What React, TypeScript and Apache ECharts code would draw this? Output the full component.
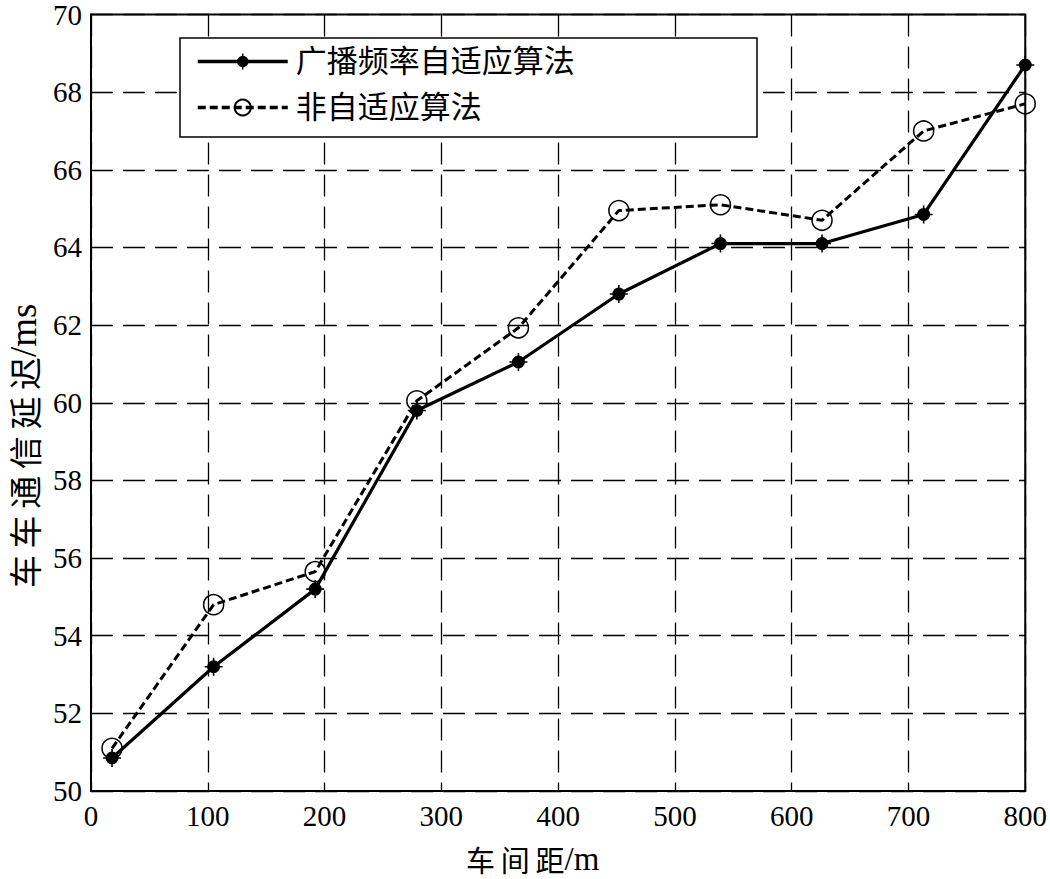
import React, { useEffect, useRef } from "react";
import * as echarts from "echarts";

const distances = [18, 105, 192, 279, 366, 452, 539, 626, 713, 800];
const adaptive = [50.85, 53.2, 55.2, 59.8, 61.05, 62.8, 64.1, 64.1, 64.85, 68.7];
const nonAdaptive = [51.1, 54.8, 55.65, 60.05, 61.93, 64.95, 65.1, 64.7, 67.0, 67.7];
const seriesNames = ["广播频率自适应算法", "非自适应算法"];
const xTitleCjk = "车间距";
const xTitleUnit = "/m";
const yTitleCjk = "车车通信延迟";
const yTitleUnit = "/ms";

const SERIF = "Liberation Serif";
const MIXED = "'Liberation Serif', 'Noto Sans CJK SC', serif";
const DOT_PLUS =
  "path://M-0.8,-9 H0.8 V-0.8 H9 V0.8 H0.8 V9 H-0.8 V0.8 H-9 V-0.8 H-0.8 Z " +
  "M-6.5,0 A6.5,6.5 0 1 1 6.5,0 A6.5,6.5 0 1 1 -6.5,0 Z";

const spaced = (s: string) => s.split("").join("\u2009");

export default function App() {
  const ref = useRef<HTMLDivElement>(null);
  useEffect(() => {
    if (!ref.current) return;
    const chart = echarts.init(ref.current, undefined, { renderer: "svg" });
    const gridLine = { show: true, lineStyle: { color: "#000", width: 1.3, type: [22, 10] as any } };
    const tickLabel = (margin: number) => ({
      color: "#000",
      margin,
      formatter: (v: number) => `{s|${v}}`,
      rich: { s: { fontFamily: SERIF, fontSize: 29, color: "#000" } },
    });
    chart.setOption({
      animation: false,
      backgroundColor: "#fff",
      textStyle: { fontFamily: SERIF },
      grid: {
        left: 91,
        right: 24,
        top: 13,
        bottom: 88,
        show: true,
        borderColor: "#000",
        borderWidth: 2,
      },
      legend: {
        left: 182,
        top: 38,
        orient: "vertical",
        padding: [8, 10, 8, 14],
        itemGap: 15,
        itemWidth: 90,
        itemHeight: 20,
        borderWidth: 0,
        z: 10,
        textStyle: { fontFamily: MIXED, fontSize: 31, color: "#000", padding: [0, 0, 0, 3] },
        data: [
          { name: seriesNames[0], lineStyle: { width: 3.5, color: "#000" } },
          { name: seriesNames[1], lineStyle: { width: 3.5, color: "#000", type: [8, 4] } },
        ],
      },
      xAxis: {
        type: "value",
        min: 0,
        max: 800,
        interval: 100,
        axisLine: { show: true, lineStyle: { color: "#000", width: 2 } },
        axisTick: { show: false },
        axisLabel: tickLabel(10),
        splitLine: gridLine,
      },
      yAxis: {
        type: "value",
        min: 50,
        max: 70,
        interval: 2,
        axisLine: { show: true, lineStyle: { color: "#000", width: 2 } },
        axisTick: { show: false },
        axisLabel: tickLabel(9),
        splitLine: gridLine,
      },
      graphic: [
        {
          type: "rect",
          z: 5,
          shape: { x: 180, y: 38, width: 577, height: 99 },
          style: { fill: "#fff", stroke: "#000", lineWidth: 1.5 },
        },
        {
          type: "text",
          left: 466,
          top: 842,
          style: {
            text: `{a|${spaced(xTitleCjk)}}{b|${xTitleUnit}}`,
            rich: {
              a: { fontFamily: "Noto Sans CJK SC", fontSize: 29, fill: "#000" },
              b: { fontFamily: SERIF, fontSize: 33, fill: "#000" },
            },
          },
        },
        {
          type: "text",
          x: 5,
          y: 588,
          rotation: Math.PI / 2,
          style: {
            text: `{a|${spaced(yTitleCjk)}}{b|${yTitleUnit}}`,
            rich: {
              a: { fontFamily: "Noto Sans CJK SC", fontSize: 33, fill: "#000" },
              b: { fontFamily: SERIF, fontSize: 37, fill: "#000" },
            },
          },
        },
      ],
      series: [
        {
          name: seriesNames[0],
          type: "line",
          data: distances.map((d, i) => [d, adaptive[i]]),
          symbol: DOT_PLUS,
          symbolSize: 18,
          itemStyle: { color: "#000" },
          lineStyle: { color: "#000", width: 3.2 },
          z: 3,
        },
        {
          name: seriesNames[1],
          type: "line",
          data: distances.map((d, i) => [d, nonAdaptive[i]]),
          symbol: "circle",
          symbolSize: 20,
          itemStyle: { color: "transparent", borderColor: "#000", borderWidth: 1.5 },
          lineStyle: { color: "#000", width: 3, type: [8, 4] },
          z: 2,
        },
      ],
    });
    return () => chart.dispose();
  }, []);
  return (
    <div
      ref={ref}
      style={{ position: "fixed", left: 0, top: 0, width: 1050, height: 879, background: "#fff" }}
    />
  );
}
